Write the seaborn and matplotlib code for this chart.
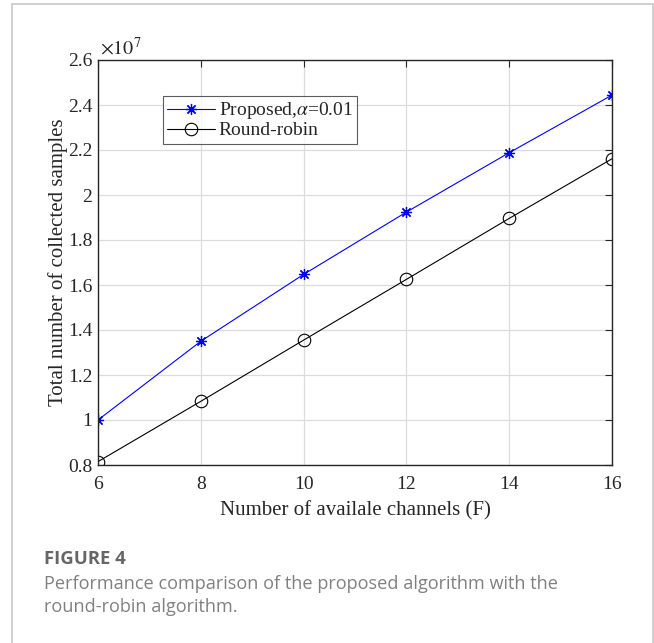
import matplotlib
matplotlib.use("Agg")
import matplotlib.pyplot as plt
import matplotlib.patches as mpatches
import seaborn as sns
import pandas as pd

channels = [6, 8, 10, 12, 14, 16]
proposed = [1.0, 1.35, 1.647, 1.924, 2.188, 2.444]
round_robin = [0.815, 1.083, 1.355, 1.625, 1.896, 2.161]
series_names = ["Proposed,$\\alpha$=0.01", "Round-robin"]
x_ticks = [6, 8, 10, 12, 14, 16]
y_ticks = [0.8, 1.0, 1.2, 1.4, 1.6, 1.8, 2.0, 2.2, 2.4, 2.6]
y_tick_labels = ["0.8", "1", "1.2", "1.4", "1.6", "1.8", "2", "2.2", "2.4", "2.6"]

sns.set_theme(style="white")
plt.rcParams["font.family"] = ["Liberation Serif", "DejaVu Serif"]
plt.rcParams["mathtext.fontset"] = "stix"

fig = plt.figure(figsize=(6.54, 6.43), dpi=100)
fig.patch.set_facecolor("white")

# outer frame
fig.add_artist(mpatches.Rectangle((12 / 654, -0.05), (653 - 12) / 654, 1.05 - 4 / 643,
                                  transform=fig.transFigure, fill=False,
                                  edgecolor="#c8c8c8", linewidth=1.2))

ax = fig.add_axes([98 / 654, (643 - 465) / 643, (612 - 98) / 654, (465 - 60) / 643])

df = pd.DataFrame({"F": channels * 2,
                   "val": proposed + round_robin,
                   "series": [series_names[0]] * len(channels) + [series_names[1]] * len(channels)})

sns.lineplot(data=df[df.series == series_names[0]], x="F", y="val", ax=ax,
             color="#0000ff", linewidth=0.8, marker=(8, 2, 0), markersize=8,
             markeredgewidth=0.9, markeredgecolor="#0000ff", label=series_names[0])
sns.lineplot(data=df[df.series == series_names[1]], x="F", y="val", ax=ax,
             color="black", linewidth=0.8, marker="o", markersize=9,
             markerfacecolor="none", markeredgewidth=0.8, markeredgecolor="black",
             label=series_names[1])

ax.set_xlim(6, 16)
ax.set_ylim(0.8, 2.6)
ax.set_xticks(x_ticks)
ax.set_xticklabels([str(t) for t in x_ticks])
ax.set_yticks(y_ticks)
ax.set_yticklabels(y_tick_labels)
ax.grid(True, color="#dcdcdc", linewidth=0.9)
ax.set_axisbelow(True)
for s in ax.spines.values():
    s.set_color("#262626")
    s.set_linewidth(1.0)
    s.set_visible(True)
ax.tick_params(direction="in", length=5, width=0.8, top=True, right=True,
               labelsize=14, colors="#262626", labelcolor="#262626")
ax.tick_params(axis="x", pad=8)
ax.tick_params(axis="y", pad=4)

ax.set_xlabel("Number of availale channels (F)", fontsize=15, color="#262626", labelpad=6)
ax.set_ylabel("Total number of collected samples", fontsize=15, color="#262626", labelpad=0)
ax.text(0.003, 1.0, "$\\times10^{7}$", transform=ax.transAxes, fontsize=14.5,
        color="#262626", ha="left", va="bottom")

leg = ax.legend(loc="upper left", bbox_to_anchor=(0.126, 0.911), borderaxespad=0,
                fancybox=False, frameon=True, fontsize=14, handlelength=2.45,
                handletextpad=0.2, borderpad=0.22, labelspacing=0.02)
leg.get_frame().set_edgecolor("#333333")
leg.get_frame().set_linewidth(0.8)

cap_font = ["Open Sans", "DejaVu Sans"]
fig.text(44 / 654, 1 - 559 / 643, "FIGURE 4", fontsize=13.3, fontweight="bold",
         color="#666666", family=cap_font, va="center", ha="left")
fig.text(44 / 654, 1 - 584 / 643, "Performance comparison of the proposed algorithm with the",
         fontsize=13.1, color="#808080", family=cap_font, va="center", ha="left")
fig.text(44 / 654, 1 - 607 / 643, "round-robin algorithm.",
         fontsize=13.1, color="#808080", family=cap_font, va="center", ha="left")

fig.savefig("out.png", dpi=100)
